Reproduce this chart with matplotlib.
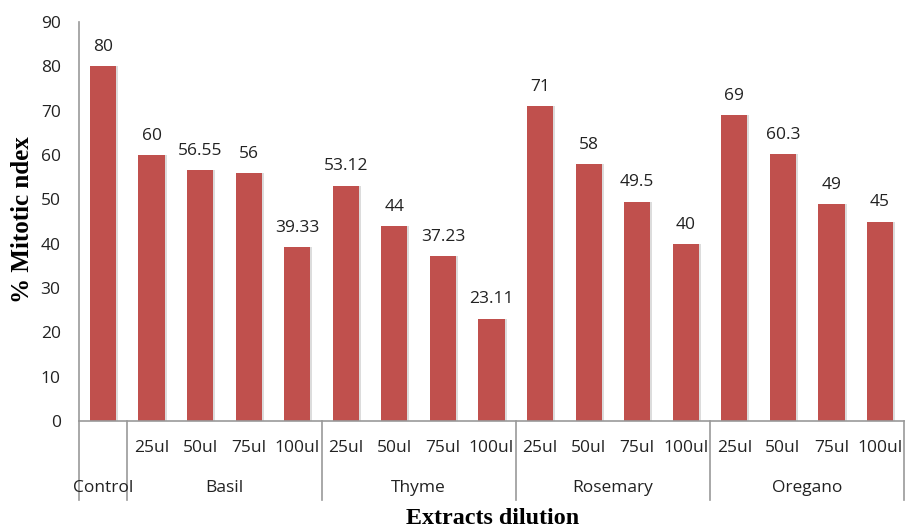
import matplotlib
matplotlib.use("Agg")
import matplotlib.pyplot as plt
from matplotlib.transforms import blended_transform_factory

categories = ["Control", "Basil", "Basil", "Basil", "Basil", "Thyme", "Thyme", "Thyme", "Thyme",
              "Rosemary", "Rosemary", "Rosemary", "Rosemary", "Oregano", "Oregano", "Oregano", "Oregano"]
sub_labels = ["", "25ul", "50ul", "75ul", "100ul", "25ul", "50ul", "75ul", "100ul",
              "25ul", "50ul", "75ul", "100ul", "25ul", "50ul", "75ul", "100ul"]
values = [80, 60, 56.55, 56, 39.33, 53.12, 44, 37.23, 23.11, 71, 58, 49.5, 40, 69, 60.3, 49, 45]
value_labels = ["80", "60", "56.55", "56", "39.33", "53.12", "44", "37.23", "23.11",
                "71", "58", "49.5", "40", "69", "60.3", "49", "45"]
groups = ["Control", "Basil", "Thyme", "Rosemary", "Oregano"]
yticks = [0, 10, 20, 30, 40, 50, 60, 70, 80, 90]

plt.rcParams['font.family'] = ['Open Sans', 'DejaVu Sans']
fig = plt.figure(figsize=(9.07, 5.27), dpi=100)
ax = fig.add_axes([78.7/907, 1-421/527, (904.3-78.7)/907, (421-22)/527])

x = list(range(len(values)))
color = "#C0504D"
# faint shadow
ax.bar([xi + 0.04 for xi in x], values, width=0.54, color="#dcdcdc", zorder=1)
ax.bar(x, values, width=0.54, color=color, zorder=2)
for xi, v, lab in zip(x, values, value_labels):
    ax.annotate(lab, (xi, v), xytext=(0, 8), textcoords="offset points",
                ha="center", va="bottom", fontsize=12.5, color="#222222")

ax.set_xlim(-0.5, len(values) - 0.5)
ax.set_ylim(0, 90)
ax.set_yticks(yticks)
ax.tick_params(axis="y", length=0, pad=13, labelsize=12.5, labelcolor="#222222")
ax.set_xticks([])
for s in ["top", "right"]:
    ax.spines[s].set_visible(False)
ax.spines["left"].set_color("#999999")
ax.spines["bottom"].set_color("#999999")
ax.spines["left"].set_linewidth(1.2)
ax.spines["bottom"].set_linewidth(1.2)

trans = blended_transform_factory(ax.transData, ax.transAxes)
px = 1.0 / (421 - 22)  # one pixel in axes fraction (vertical)
for xi, lab in zip(x, sub_labels):
    if lab:
        ax.text(xi, -27 * px, lab, transform=trans, ha="center", va="center",
                fontsize=12.5, color="#222222")

# group positions
starts = []
ends = []
for g in groups:
    idx = [i for i, c in enumerate(categories) if c == g]
    starts.append(min(idx))
    ends.append(max(idx))
for g, s, e in zip(groups, starts, ends):
    ax.text((s + e) / 2, -67 * px, g, transform=trans, ha="center", va="center",
            fontsize=12.5, color="#222222")
bounds = [starts[0] - 0.5] + [e + 0.5 for e in ends]
for b in bounds:
    ax.plot([b, b], [0, -79 * px], transform=trans, color="#999999", lw=1.2, clip_on=False)

fig.text(493/907, 1-518/527, "Extracts dilution", ha="center", va="center",
         fontsize=17.3, fontweight="bold", family=["Liberation Serif"])
fig.text(23/907, 1-220/527, "% Mitotic ndex", ha="center", va="center", rotation=90,
         fontsize=18, fontweight="bold", family=["Liberation Serif"])

fig.savefig("out.png", dpi=100)
